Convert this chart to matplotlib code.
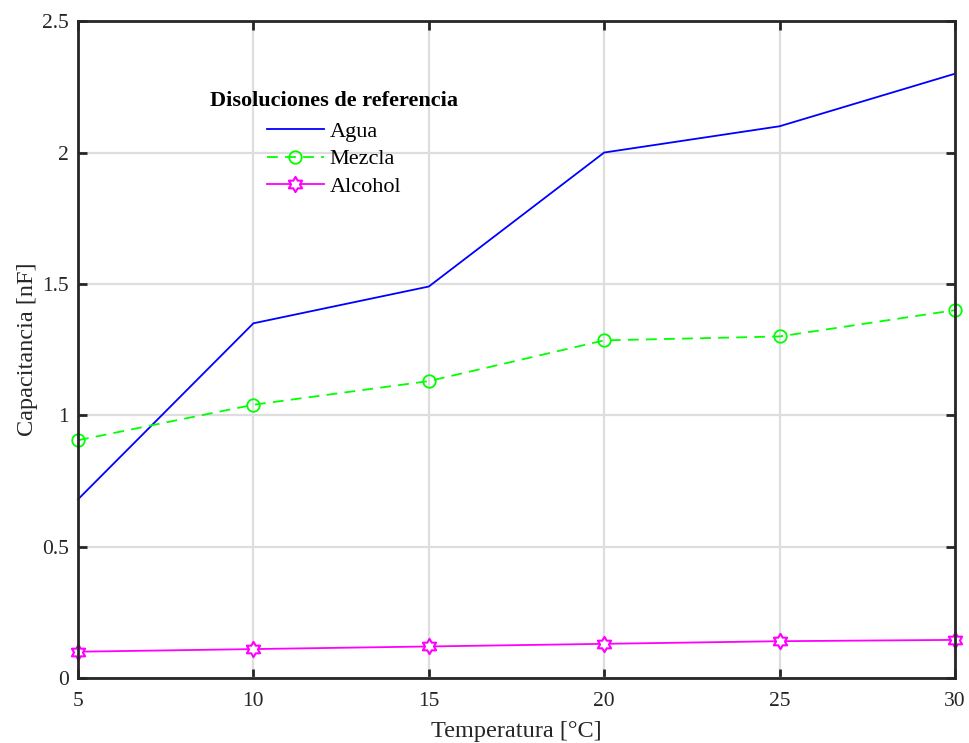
import numpy as np
import matplotlib.pyplot as plt
from matplotlib.path import Path

temperatura = [5, 10, 15, 20, 25, 30]
agua = [0.68, 1.35, 1.49, 2.0, 2.10, 2.30]
mezcla = [0.905, 1.04, 1.13, 1.285, 1.30, 1.40]
alcohol = [0.10, 0.11, 0.12, 0.13, 0.14, 0.145]

plt.rcParams['font.family'] = ['Liberation Serif', 'DejaVu Serif']

# hexagram marker (two overlapping triangles)
ang = np.deg2rad(np.arange(0, 360, 30) + 90)
rad = np.where(np.arange(12) % 2 == 0, 1.0, 0.58)
verts = np.column_stack([rad * np.cos(ang), rad * np.sin(ang)])
verts = np.vstack([verts, verts[0]])
hexagram = Path(verts, [Path.MOVETO] + [Path.LINETO] * 11 + [Path.CLOSEPOLY])

fig = plt.figure(figsize=(9.69, 7.43), dpi=100)
ax = fig.add_axes([0.0805, 0.0875, 0.905, 0.884])

ax.plot(temperatura, agua, color='#0000ff', lw=1.3, label='Agua', clip_on=False)
ax.plot(temperatura, mezcla, color='#00ff00', lw=1.3, ls=(0, (6, 4)), marker='o',
        ms=9, mfc='none', mew=1.3, label='Mezcla', clip_on=False)
ax.plot(temperatura, alcohol, color='#ff00ff', lw=1.3, marker=hexagram,
        ms=11, mfc='white', mew=1.5, label='Alcohol', clip_on=False)

ax.set_xlim(5, 30)
ax.set_ylim(0, 2.5)
ax.set_xticks([5, 10, 15, 20, 25, 30])
ax.set_yticks([0, 0.5, 1, 1.5, 2, 2.5])
ax.set_yticklabels(['0', '0.5', '1', '1.5', '2', '2.5'])
ax.grid(True, color='#dedede', lw=1.6)
ax.set_axisbelow(True)
ax.tick_params(direction='in', top=True, right=True, labelsize=15.5, length=6.5,
               width=2, color='#262626', labelcolor='#262626')
ax.tick_params(axis='x', pad=10)
ax.tick_params(axis='y', pad=6.5)
for s in ax.spines.values():
    s.set_linewidth(2)
    s.set_color('#262626')

ax.set_xlabel('Temperatura [°C]', fontsize=17.5, color='#262626', labelpad=7)
ax.set_ylabel('Capacitancia [nF]', fontsize=17.5, color='#262626', labelpad=3)

leg = ax.legend(loc='upper center', bbox_to_anchor=(334 / 969, 1 - 75 / 743),
                bbox_transform=fig.transFigure, frameon=False, fontsize=16,
                title='Disoluciones de referencia', handlelength=2.6,
                handletextpad=0.25, labelspacing=0.3, borderpad=0.2)
leg.get_title().set_fontweight('bold')
leg.get_title().set_fontsize(16)
leg._legend_box.sep = 8

fig.savefig('out.png', dpi=100)
